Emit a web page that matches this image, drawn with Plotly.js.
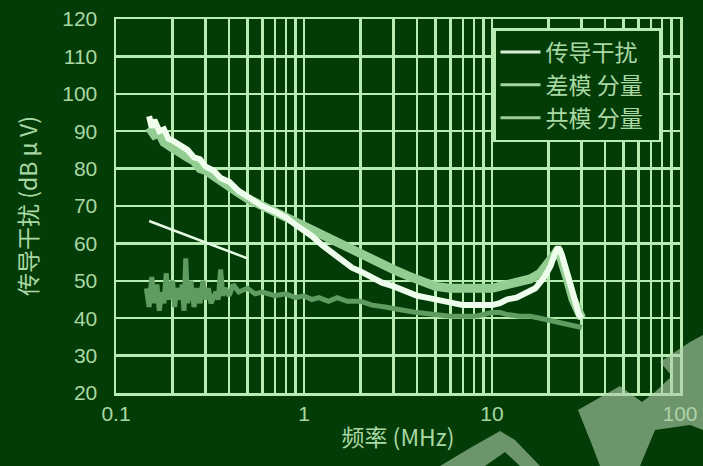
<!DOCTYPE html>
<html>
<head>
<meta charset="utf-8">
<script src="https://cdn.plot.ly/plotly-3.0.1.min.js"></script>
<style>
  html, body { margin: 0; padding: 0; background: #033c06; }
  #chart { width: 703px; height: 466px; }
</style>
</head>
<body>
<div id="chart"></div>
<script>
// Conducted interference spectrum (MHz vs dBμV)
const seriesNames = ["传导干扰", "差模 分量", "共模 分量"];

const totalFreq = [0.15, 0.155, 0.16, 0.17, 0.18, 0.19, 0.2, 0.22, 0.24, 0.26, 0.28, 0.3, 0.33, 0.36, 0.4, 0.45, 0.5, 0.55, 0.6, 0.7, 0.8, 0.9, 1.0, 1.1, 1.25, 1.4, 1.6, 1.8, 2.0, 2.3, 2.6, 3.0, 3.5, 4.0, 4.5, 5.0, 6.0, 7.0, 8.0, 9.0, 10, 11, 12, 13.5, 15, 17, 19, 20.5, 21.5, 22.5, 23.5, 25, 27, 29, 30];
const totalVal = [94, 91, 93, 90, 90.5, 88, 87.5, 86, 85, 83, 82.5, 80.5, 79.5, 77.5, 76.5, 74, 72.5, 71.5, 70, 68.5, 67, 65, 63.5, 62, 59.5, 57.5, 55.5, 53.5, 52.5, 51, 49.5, 48.5, 47, 46, 45.5, 45, 44, 43.5, 43.5, 43.5, 43.5, 44, 45, 45.5, 46.5, 48, 51, 54, 57, 59, 57, 52, 46, 41, 40];

const dmFreq = [0.15, 0.16, 0.17, 0.18, 0.2, 0.22, 0.24, 0.26, 0.28, 0.3, 0.35, 0.4, 0.45, 0.5, 0.6, 0.7, 0.8, 0.9, 1.0, 1.1, 1.25, 1.4, 1.6, 1.8, 2.0, 2.3, 2.6, 3.0, 3.5, 4.0, 4.5, 5.0, 6.0, 7.0, 8.0, 9.0, 10, 12, 14, 16, 18, 20, 21.5, 22.5, 23.5, 25, 27, 29, 30];
const dmVal = [91, 89, 89.5, 87, 85.5, 84.5, 83, 82, 80, 79.5, 77, 75, 73.5, 72, 70, 68.5, 67, 66, 65, 64, 62.5, 61, 59.5, 58, 57, 55.5, 54, 53, 51.5, 50.5, 49, 48.5, 48, 48, 47.5, 47.5, 48, 49, 49.5, 50.5, 52, 54.5, 57, 58.5, 56, 51, 45, 41, 40];

const cmFreq = [0.145, 0.15, 0.155, 0.16, 0.165, 0.17, 0.175, 0.18, 0.185, 0.19, 0.2, 0.205, 0.21, 0.22, 0.225, 0.23, 0.235, 0.24, 0.25, 0.26, 0.27, 0.28, 0.29, 0.3, 0.31, 0.32, 0.34, 0.35, 0.36, 0.37, 0.38, 0.4, 0.42, 0.45, 0.5, 0.55, 0.6, 0.7, 0.8, 0.9, 1.0, 1.1, 1.2, 1.35, 1.5, 1.7, 2.0, 2.3, 2.7, 3.0, 3.5, 4.0, 5.0, 6.0, 7.0, 8.0, 9.0, 10, 11, 12, 14, 16, 18, 20, 22, 25, 28, 30];
const cmVal = [48, 43, 51, 44, 49, 42, 47, 44, 52, 45, 50, 43, 48, 45, 49, 42, 56, 44, 50, 43, 48, 44, 50, 45, 48, 44, 47, 45, 53, 46, 48, 46, 49, 47, 48, 46.5, 47, 46, 46.5, 45.5, 46, 45, 45.5, 44.5, 45.5, 44.5, 44.5, 43.5, 43, 42.5, 42, 41.5, 41, 40.5, 40.5, 40.5, 41, 41.5, 41.5, 41, 40.5, 40.5, 40, 39.5, 39, 38.5, 38, 37.5];

// Quasi-peak limit segment
const limitFreq = [0.15, 0.5];
const limitVal = [66, 56];

// Axis ticks: every 1..9 step of each decade gets a grid line, decades get labels
const xTickVals = [0.1, 0.2, 0.3, 0.4, 0.5, 0.6, 0.7, 0.8, 0.9, 1, 2, 3, 4, 5, 6, 7, 8, 9, 10, 20, 30, 40, 50, 60, 70, 80, 90, 100];
const xTickText = ["0.1", "", "", "", "", "", "", "", "", "1", "", "", "", "", "", "", "", "", "10", "", "", "", "", "", "", "", "", "100"];
const yTickVals = [20, 30, 40, 50, 60, 70, 80, 90, 100, 110, 120];

const bg = "#033c06";
const grid = "#b9ecb3";
const textCol = "#a9d8a4";
const cjk = "Noto Sans CJK SC, sans-serif";
const pad = "\u00a0\u00a0";

const colTotal = "#eefdec", colDm = "#93cd92", colCm = "#5f9c5f";

const traces = [
  { x: cmFreq, y: cmVal, type: "scatter", mode: "lines", showlegend: false,
    line: { color: colCm, width: 5 } },
  { x: dmFreq, y: dmVal, type: "scatter", mode: "lines", showlegend: false,
    line: { color: colDm, width: 9 } },
  { x: totalFreq, y: totalVal, type: "scatter", mode: "lines", showlegend: false,
    line: { color: colTotal, width: 6 } },
  { x: limitFreq, y: limitVal, type: "scatter", mode: "lines", showlegend: false,
    line: { color: "#e6fbe3", width: 2.5 } },
  // thin legend keys
  { x: [null], y: [null], name: seriesNames[0] + pad, type: "scatter", mode: "lines",
    line: { color: "#d9f2d5", width: 3 } },
  { x: [null], y: [null], name: seriesNames[1] + pad, type: "scatter", mode: "lines",
    line: { color: "#a6d6a2", width: 3 } },
  { x: [null], y: [null], name: seriesNames[2] + pad, type: "scatter", mode: "lines",
    line: { color: "#9ccc98", width: 3 } }
];

// Pixel -> paper conversion for the corner emblem
const L = 116, T = 19, W = 564, H = 374;
function px(points) {
  return "M " + points.map(p => ((p[0] - L) / W).toFixed(4) + "," + (1 - (p[1] - T) / H).toFixed(4)).join(" L ") + " Z";
}
const emblemFill = "rgba(175,205,170,0.62)";
const shapes = [
  { type: "path", xref: "paper", yref: "paper", layer: "above", line: { width: 0 }, fillcolor: emblemFill,
    path: px([[440, 466], [470, 448], [500, 431], [515, 440], [540, 466], [520, 466], [505, 452], [485, 466]]) },
  { type: "path", xref: "paper", yref: "paper", layer: "above", line: { width: 0 }, fillcolor: emblemFill,
    path: px([[578, 410], [620, 386], [642, 402], [655, 392], [672, 376], [660, 362], [690, 342], [703, 335], [703, 430], [690, 425], [655, 430], [640, 466], [600, 466], [592, 445]]) }
];

const layout = {
  width: 703, height: 466,
  margin: { l: L, r: 703 - L - W, t: T, b: 466 - T - H, pad: 0 },
  paper_bgcolor: bg, plot_bgcolor: bg,
  font: { family: "Liberation Sans, Arial, sans-serif", color: textCol },
  showlegend: true,
  xaxis: {
    type: "log", range: [-1, 2], tickmode: "array", tickvals: xTickVals, ticktext: xTickText,
    showgrid: true, gridcolor: grid, gridwidth: 2.5, zeroline: false,
    showline: true, linecolor: grid, linewidth: 2.5, mirror: true, ticks: "",
    tickfont: { size: 21, color: textCol }, ticklabelstandoff: 0,
    title: { text: "频率 (MHz)", font: { size: 23, color: textCol, family: cjk }, standoff: 6 }
  },
  yaxis: {
    range: [20, 120], tickmode: "array", tickvals: yTickVals,
    showgrid: true, gridcolor: grid, gridwidth: 2.5, zeroline: false,
    showline: true, linecolor: grid, linewidth: 2.5, mirror: true, ticks: "",
    tickfont: { size: 21, color: textCol }, ticklabelstandoff: 12,
    title: { text: "传导干扰 (dB μ V)", font: { size: 23, color: textCol, family: cjk }, standoff: 18 }
  },
  legend: {
    x: (493 - L) / W, y: 1 - (28 - T) / H, xanchor: "left", yanchor: "top",
    bgcolor: bg, bordercolor: grid, borderwidth: 2.5,
    font: { size: 23, color: textCol, family: cjk },
    itemwidth: 40, tracegroupgap: 0
  },
  shapes: shapes
};

Plotly.newPlot("chart", traces, layout, { displayModeBar: false, staticPlot: true });
</script>
</body>
</html>
